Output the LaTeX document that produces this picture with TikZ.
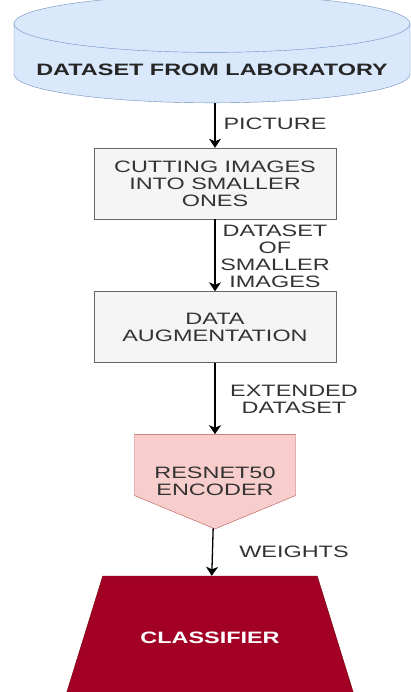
\documentclass[tikz,border=0pt]{standalone}
\usepackage{fontspec}
\setmainfont{Liberation Sans}[FakeStretch=1.42]
\usetikzlibrary{arrows.meta,shapes.geometric,shapes.symbols}

\definecolor{dbfill}{HTML}{DAE8FC}
\definecolor{dbline}{HTML}{6C8EBF}
\definecolor{boxfill}{HTML}{F5F5F5}
\definecolor{boxline}{HTML}{666666}
\definecolor{boxtext}{HTML}{333333}
\definecolor{encfill}{HTML}{F8CECC}
\definecolor{encline}{HTML}{B85450}
\definecolor{clsfill}{HTML}{A20025}
\definecolor{clsline}{HTML}{6F0000}

\newcommand{\lowtext}[1]{\rule{0pt}{#1}}

\tikzset{
    every node/.style={font=\fontsize{16.5}{17}\selectfont, align=center},
    database/.style={cylinder, shape border rotate=90, aspect=0.16, draw=dbline, fill=dbfill,
        text=black!85, font=\fontsize{16.5}{17}\selectfont\bfseries, minimum width=396pt, minimum height=92pt},
    process/.style={rectangle, draw=boxline, fill=boxfill, text=boxtext, minimum width=242pt, minimum height=71pt},
    encoder/.style={signal, signal to=south, signal from=nothing, signal pointer angle=135,
        draw=encline, fill=encfill, text=boxtext, minimum width=161pt, minimum height=87pt, inner ysep=0pt},
    classifier/.style={trapezium, trapezium left angle=72.8, trapezium right angle=72.8, trapezium stretches body,
        draw=clsline, fill=clsfill, text=white, font=\fontsize{16.5}{17}\selectfont\bfseries,
        inner ysep=55pt, text height=12pt, text depth=0pt, minimum width=290pt, minimum height=122pt},
    flow/.style={-{Stealth[length=9pt, width=12pt, inset=2.5pt]}, line width=1.3pt},
    edgetext/.style={text=boxtext, inner sep=0pt}
}

\begin{document}
\begin{tikzpicture}[x=1pt, y=-1pt]
    \useasboundingbox (0,0) rectangle (410,692);

    \node[database] (dataset) at (212,66) {\lowtext{20pt}DATASET FROM LABORATORY};
    \node[process] (cutting) at (215,183.5) {CUTTING IMAGES\\INTO SMALLER\\ONES};
    \node[process] (augment) at (215,327) {DATA\\AUGMENTATION};
    \node[encoder] (resnet) at (215,465) {\lowtext{44pt}RESNET50\\ENCODER};
    \node[classifier] (classify) at (210,637) {CLASSIFIER};

    \node[edgetext] (picture) at (275,124) {PICTURE};
    \node[edgetext] (smaller) at (275,256) {DATASET\\OF\\SMALLER\\IMAGES};
    \node[edgetext] (extended) at (294,399) {EXTENDED\\DATASET};
    \node[edgetext] (weights) at (294,552) {WEIGHTS};

    \draw[flow] (dataset.south -| cutting.north) -- (cutting.north);
    \draw[flow] (cutting) -- (augment);
    \draw[flow] (augment) -- (resnet);
    \draw[flow] (resnet) -- (classify);
\end{tikzpicture}
\end{document}
